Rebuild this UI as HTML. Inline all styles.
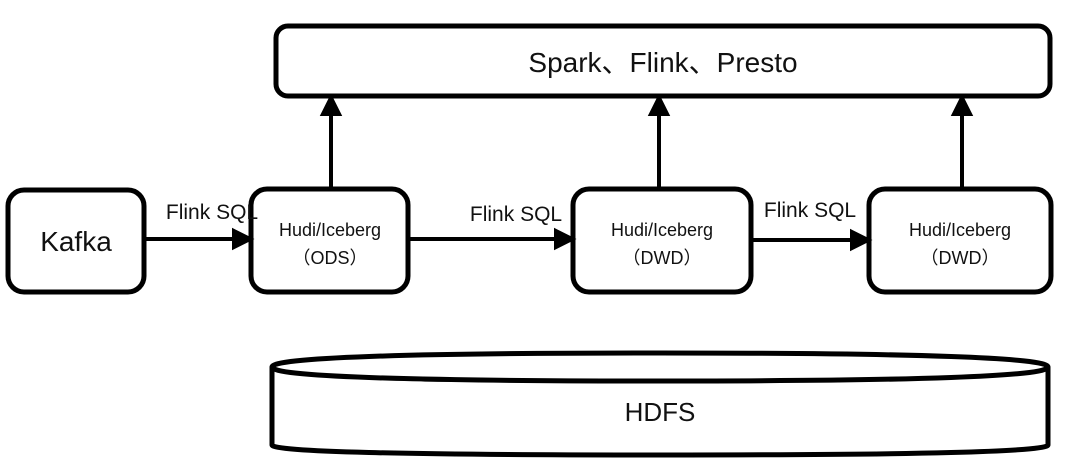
<!DOCTYPE html>
<html><head><meta charset="utf-8"><style>
html,body{margin:0;padding:0;background:#fff;}
svg text{font-family:"Liberation Sans","Noto Sans CJK SC",sans-serif;fill:#111;}
</style></head><body>
<svg width="1080" height="469" viewBox="0 0 1080 469" xmlns="http://www.w3.org/2000/svg">
<g fill="none" stroke="#000" stroke-width="5">
<rect x="276" y="26" width="774" height="70" rx="12"/>
<rect x="8" y="190" width="136" height="102" rx="16"/>
<rect x="251" y="189" width="157" height="103" rx="16"/>
<rect x="573" y="189" width="178" height="103" rx="16"/>
<rect x="869" y="189" width="182" height="103" rx="16"/>
<path d="M272,367 Q272,353 660,353 Q1048,353 1048,367 Q1048,381 660,381 Q272,381 272,367 Z"/>
<path d="M272,367 L272,445 Q272,455 660,455 Q1048,455 1048,445 L1048,367"/>
</g>
<g stroke="#000" stroke-width="4" fill="#000">
<line x1="144" y1="239" x2="238" y2="239"/><path d="M234,231 L250,239 L234,247 Z"/>
<line x1="408" y1="239" x2="560" y2="239"/><path d="M556,231 L572,239 L556,247 Z"/>
<line x1="751" y1="240" x2="856" y2="240"/><path d="M852,232 L868,240 L852,248 Z"/>
<line x1="331" y1="189" x2="331" y2="112"/><path d="M323,114 L331,98 L339,114 Z"/>
<line x1="659" y1="189" x2="659" y2="112"/><path d="M651,114 L659,98 L667,114 Z"/>
<line x1="962" y1="189" x2="962" y2="112"/><path d="M954,114 L962,98 L970,114 Z"/>
</g>
<text x="663" y="72" font-size="28" text-anchor="middle">Spark、Flink、Presto</text>
<text x="76" y="251" font-size="28" text-anchor="middle">Kafka</text>
<text x="212" y="219" font-size="21" text-anchor="middle">Flink SQL</text>
<text x="516" y="221" font-size="21" text-anchor="middle">Flink SQL</text>
<text x="810" y="217" font-size="21" text-anchor="middle">Flink SQL</text>
<text x="330" y="236" font-size="18" text-anchor="middle">Hudi/Iceberg</text>
<text x="330" y="264" font-size="18" text-anchor="middle">（ODS）</text>
<text x="662" y="236" font-size="18" text-anchor="middle">Hudi/Iceberg</text>
<text x="662" y="264" font-size="18" text-anchor="middle">（DWD）</text>
<text x="960" y="236" font-size="18" text-anchor="middle">Hudi/Iceberg</text>
<text x="960" y="264" font-size="18" text-anchor="middle">（DWD）</text>
<text x="660" y="421" font-size="26" text-anchor="middle">HDFS</text>
</svg>
</body></html>
